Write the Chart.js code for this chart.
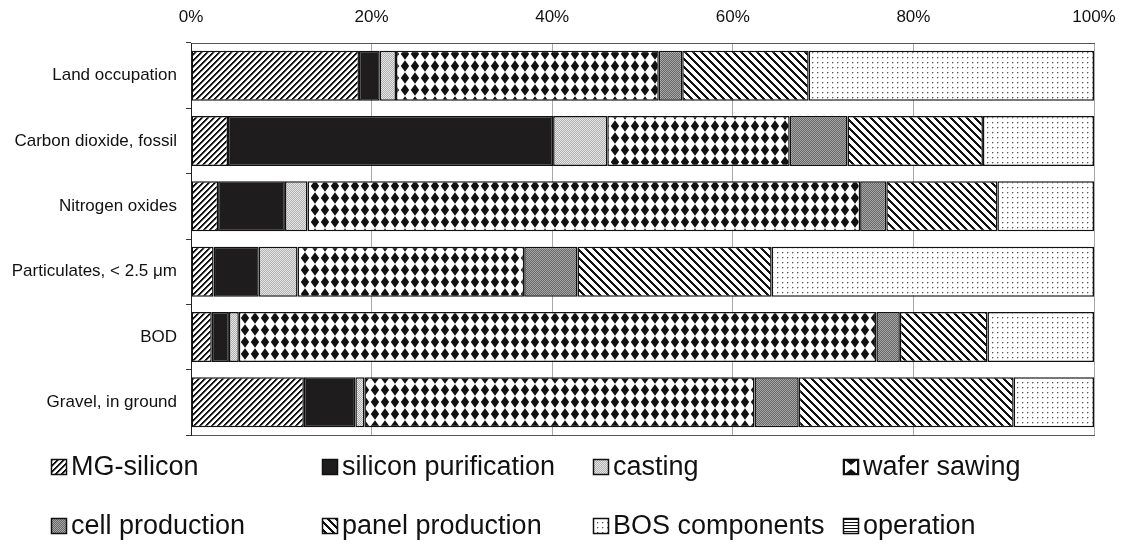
<!DOCTYPE html>
<html><head><meta charset="utf-8">
<script src="https://cdn.jsdelivr.net/npm/chart.js@4.4.1/dist/chart.umd.min.js"></script>
<style>html,body{margin:0;padding:0;background:#fff;overflow:hidden;}</style>
</head><body>
<canvas id="c" width="1121" height="544"></canvas>
<script>
// ---- data ----
const categories = ['Land occupation', 'Carbon dioxide, fossil', 'Nitrogen oxides', 'Particulates, < 2.5 \u03bcm', 'BOD', 'Gravel, in ground'];
const seriesNames = ['MG-silicon', 'silicon purification', 'casting', 'wafer sawing', 'cell production', 'panel production', 'BOS components', 'operation'];
const mgSilicon           = [18.6,  4.1,  3.0,  2.5,  2.3, 12.5];
const siliconPurification = [ 2.3, 36.0,  7.4,  5.0,  1.9,  5.7];
const casting             = [ 1.8,  6.0,  2.5,  4.3,  1.1,  1.0];
const waferSawing         = [29.1, 20.2, 61.2, 25.1, 70.6, 43.2];
const cellProduction      = [ 2.6,  6.4,  2.9,  5.9,  2.6,  4.9];
const panelProduction     = [14.0, 15.0, 12.3, 21.5,  9.7, 23.8];
const bosComponents       = [31.6, 12.3, 10.7, 35.7, 11.8,  8.9];
const operation           = [ 0,    0,    0,    0,    0,    0  ];
const tickLabels = ['0%', '20%', '40%', '60%', '80%', '100%'];

// ---- patterns ----
const FONT = "'Liberation Sans', Arial, Helvetica, sans-serif";
function tile(w, h, draw) {
  const c = document.createElement('canvas');
  c.width = w; c.height = h;
  const g = c.getContext('2d');
  g.fillStyle = '#fff'; g.fillRect(0, 0, w, h);
  draw(g, w, h);
  return c;
}
function pixels(w, h, fn) {
  return tile(w, h, (g) => {
    for (let y = 0; y < h; y++) for (let x = 0; x < w; x++) {
      const col = fn(x, y);
      if (col) { g.fillStyle = col; g.fillRect(x, y, 1, 1); }
    }
  });
}
const pctx = document.createElement('canvas').getContext('2d');
const pat = (c) => pctx.createPattern(c, 'repeat');

const pMG = pat(pixels(6, 6, (x, y) => { const m = (x + y) % 6; return m < 2 ? '#111' : (m === 2 ? '#888' : null); }));
const pPanel = pat(pixels(8, 8, (x, y) => (((x - y) % 8) + 8) % 8 < 3 ? '#111' : null));
const pCasting = pat(pixels(2, 2, (x, y) => ((x + y) % 2) ? '#b0b0b0' : '#e6e6e6'));
const pCell = pat(pixels(2, 2, (x, y) => ((x + y) % 2) ? '#686868' : '#a6a6a6'));
const pBOS = pat(pixels(5, 5, (x, y) => {
  if (x === 2 && y === 2) return '#555';
  if ((x === 3 && y === 2) || (x === 2 && y === 3)) return '#c4c4c4';
  return null;
}));
const pOper = pat(pixels(1, 3, (x, y) => y === 0 ? '#111' : null));
const pWafer = pat(tile(10, 12, (g) => {
  g.fillStyle = '#111';
  g.beginPath();
  g.moveTo(5, 0.2); g.lineTo(9.2, 6); g.lineTo(5, 11.8); g.lineTo(0.8, 6); g.closePath();
  g.fill();
}));
const fills = [pMG, '#1e1c1d', pCasting, pWafer, pCell, pPanel, pBOS, pOper];
const seriesData = [mgSilicon, siliconPurification, casting, waferSawing, cellProduction, panelProduction, bosComponents, operation];

const datasets = seriesNames.map((name, i) => ({
  label: name,
  data: seriesData[i],
  backgroundColor: fills[i],
  borderColor: '#111',
  borderWidth: 1.5,
  borderSkipped: false,
  barPercentage: 0.766,
  categoryPercentage: 1.0
}));

// ---- custom column legend ----
const legendCols = [51, 322, 593, 843];
const legendRows = [467, 526];
const legendPlugin = {
  id: 'colLegend',
  afterDraw(chart) {
    const c = chart.ctx;
    c.save();
    chart.data.datasets.forEach((ds, i) => {
      const x = legendCols[i % 4], y = legendRows[Math.floor(i / 4)];
      const s = 16, sx = x, sy = Math.round(y - 8);
      if (i === 3) {
        c.fillStyle = '#111'; c.fillRect(sx, sy, s, s);
        c.fillStyle = '#fff'; c.fillRect(sx + 2, sy + 2, s - 4, s - 4);
        c.fillStyle = '#111';
        c.beginPath(); c.moveTo(sx + 3, sy + 2); c.lineTo(sx + s - 3, sy + 2); c.lineTo(sx + s / 2, sy + 6); c.closePath(); c.fill();
        c.beginPath(); c.moveTo(sx + 3, sy + s - 2); c.lineTo(sx + s - 3, sy + s - 2); c.lineTo(sx + s / 2, sy + s - 6); c.closePath(); c.fill();
      } else {
        c.fillStyle = ds.backgroundColor;
        c.fillRect(sx, sy, s, s);
      }
      c.strokeStyle = '#111'; c.lineWidth = 1.5;
      c.strokeRect(sx + 0.5, sy + 0.5, s - 1, s - 1);
      c.fillStyle = '#111';
      c.font = '27px ' + FONT;
      c.textBaseline = 'middle';
      c.textAlign = 'left';
      c.fillText(ds.label, x + 20, y + 1);
    });
    c.restore();
  }
};

new Chart(document.getElementById('c'), {
  type: 'bar',
  data: { labels: categories, datasets },
  plugins: [legendPlugin],
  options: {
    responsive: false,
    animation: false,
    indexAxis: 'y',
    layout: { padding: { left: 0, right: 27, top: 0, bottom: 109 } },
    plugins: { legend: { display: false }, tooltip: { enabled: false } },
    scales: {
      x: {
        type: 'linear', position: 'top', stacked: true, min: 0, max: 100,
        ticks: { stepSize: 20, callback: (v, i) => tickLabels[i], font: { family: FONT, size: 17 }, color: '#111', padding: 15, maxRotation: 0 },
        grid: { color: '#a8a8a8', lineWidth: 1, drawTicks: false },
        border: { display: true, color: '#555', width: 1 },
        afterFit: (s) => { s.height = 43; s.paddingLeft = 0; s.paddingRight = 0; }
      },
      x2: {
        type: 'linear', position: 'bottom', min: 0, max: 100,
        ticks: { display: false },
        grid: { display: false, drawTicks: false },
        border: { display: true, color: '#555', width: 1, dash: [1, 1] },
        afterFit: (s) => { s.height = 0; s.paddingLeft = 0; s.paddingRight = 0; }
      },
      y: {
        stacked: true,
        ticks: { font: { family: FONT, size: 17 }, color: '#111', padding: 9 },
        grid: { offset: true, drawOnChartArea: false, tickLength: 5, color: '#333' },
        border: { display: true, color: '#222', width: 1 },
        afterFit: (s) => { s.width = 191; s.paddingTop = 0; s.paddingBottom = 0; }
      }
    }
  }
});
</script>
</body></html>
